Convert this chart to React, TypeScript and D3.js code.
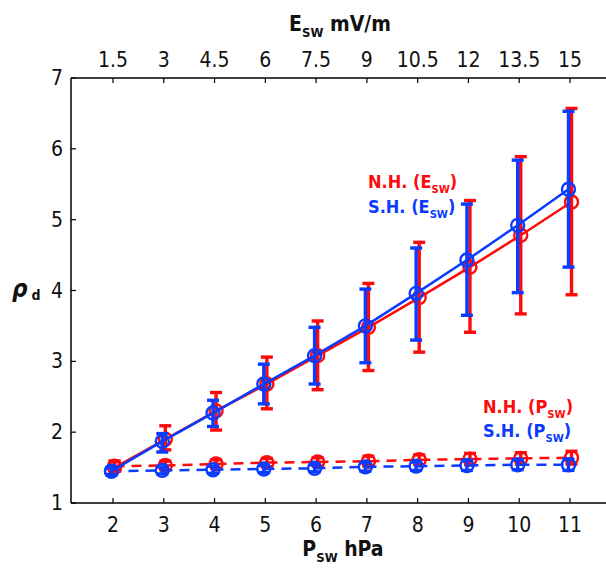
import React from "react";
import * as d3 from "d3";

// ---- data ----
const pswTicks = [2, 3, 4, 5, 6, 7, 8, 9, 10, 11];
const eswTicks = [1.5, 3, 4.5, 6, 7.5, 9, 10.5, 12, 13.5, 15];
const yTicks = [1, 2, 3, 4, 5, 6, 7];

const nhE = [1.5, 1.9, 2.3, 2.68, 3.08, 3.48, 3.9, 4.33, 4.78, 5.25];
const nhEUpper = [1.59, 2.09, 2.56, 3.06, 3.57, 4.1, 4.68, 5.27, 5.89, 6.57];
const nhELower = [1.45, 1.75, 2.03, 2.33, 2.6, 2.87, 3.13, 3.41, 3.67, 3.94];

const shE = [1.45, 1.87, 2.27, 2.68, 3.08, 3.5, 3.96, 4.43, 4.92, 5.43];
const shEUpper = [1.5, 1.98, 2.45, 2.96, 3.48, 4.02, 4.6, 5.22, 5.84, 6.53];
const shELower = [1.4, 1.72, 2.08, 2.4, 2.68, 2.98, 3.3, 3.65, 3.97, 4.33];

const nhP = [1.52, 1.53, 1.55, 1.57, 1.58, 1.59, 1.61, 1.62, 1.63, 1.64];
const nhPErr = [0.07, 0.06, 0.06, 0.06, 0.06, 0.07, 0.07, 0.08, 0.08, 0.09];
const shP = [1.45, 1.46, 1.47, 1.48, 1.49, 1.51, 1.52, 1.53, 1.54, 1.54];
const shPErr = [0.05, 0.05, 0.05, 0.05, 0.05, 0.06, 0.06, 0.07, 0.07, 0.08];

const RED = "#ff0a0a";
const BLUE = "#0a3cff";
const FONT = "'Liberation Sans Narrow', 'DejaVu Sans Condensed', 'Liberation Sans', Arial, sans-serif";

const W = 606;
const H = 574;
const LEFT = 71;
const RIGHT = 606;
const TOP = 78;
const BOTTOM = 503;

const x = d3.scaleLinear().domain([2, 11]).range([113, 570]);
const xTop = d3.scaleLinear().domain([1.5, 15]).range([113, 570]);
const y = d3.scaleLinear().domain([1, 7]).range([BOTTOM, TOP]);

type Series = {
  vals: number[];
  lo: number[];
  hi: number[];
  color: string;
  dx: number;
  dashed: boolean;
};

const series: Series[] = [
  { vals: nhP, lo: nhP.map((v, i) => v - nhPErr[i]), hi: nhP.map((v, i) => v + nhPErr[i]), color: RED, dx: 0.03, dashed: true },
  { vals: shP, lo: shP.map((v, i) => v - shPErr[i]), hi: shP.map((v, i) => v + shPErr[i]), color: BLUE, dx: -0.03, dashed: true },
  { vals: nhE, lo: nhELower, hi: nhEUpper, color: RED, dx: 0.03, dashed: false },
  { vals: shE, lo: shELower, hi: shEUpper, color: BLUE, dx: -0.03, dashed: false },
];

function SeriesMarks({ s }: { s: Series }) {
  const line = d3
    .line<number>()
    .x((_, i) => x(pswTicks[i] + s.dx))
    .y((v) => y(v));
  const capW = 6;
  return (
    <g>
      <path
        d={line(s.vals) || ""}
        fill="none"
        stroke={s.color}
        strokeWidth={2.5}
        strokeDasharray={s.dashed ? "10,7" : undefined}
      />
      {s.vals.map((v, i) => {
        const cx = x(pswTicks[i] + s.dx);
        return (
          <g key={i}>
            <line x1={cx} x2={cx} y1={y(s.lo[i])} y2={y(s.hi[i])} stroke={s.color} strokeWidth={3.4} />
            <line x1={cx - capW} x2={cx + capW} y1={y(s.lo[i])} y2={y(s.lo[i])} stroke={s.color} strokeWidth={3.4} />
            <line x1={cx - capW} x2={cx + capW} y1={y(s.hi[i])} y2={y(s.hi[i])} stroke={s.color} strokeWidth={3.4} />
            <circle cx={cx} cy={y(v)} r={6.5} fill="none" stroke={s.color} strokeWidth={2.4} />
          </g>
        );
      })}
    </g>
  );
}

function SubLabel({ x0, y0, main, sub, after, color, size, anchor }: any) {
  return (
    <text x={x0} y={y0} fill={color} fontFamily={FONT} fontWeight="bold" fontSize={size} textAnchor={anchor || "start"}>
      {main}
      <tspan fontSize={size * 0.62} dy={size * 0.28}>{sub}</tspan>
      <tspan dy={-size * 0.28}>{after}</tspan>
    </text>
  );
}

export default function App() {
  return (
    <svg width={W} height={H} style={{ position: "absolute", left: 0, top: 0, background: "#fff" }}>
      {/* axes frame */}
      <line x1={LEFT} x2={LEFT} y1={TOP} y2={BOTTOM} stroke="#000" strokeWidth={1.5} />
      <line x1={LEFT} x2={RIGHT} y1={BOTTOM} y2={BOTTOM} stroke="#000" strokeWidth={1.5} />
      <line x1={LEFT} x2={RIGHT} y1={TOP} y2={TOP} stroke="#000" strokeWidth={1.5} />

      {/* bottom ticks */}
      {pswTicks.map((t) => (
        <g key={"b" + t}>
          <line x1={x(t)} x2={x(t)} y1={BOTTOM} y2={BOTTOM - 5} stroke="#000" strokeWidth={1.2} />
          <text x={x(t)} y={BOTTOM + 29} textAnchor="middle" fontFamily={FONT} fontSize={21} fill="#111">
            {t}
          </text>
        </g>
      ))}
      {/* top ticks */}
      {eswTicks.map((t) => (
        <g key={"t" + t}>
          <line x1={xTop(t)} x2={xTop(t)} y1={TOP} y2={TOP + 5} stroke="#000" strokeWidth={1.2} />
          <text x={xTop(t)} y={TOP - 11} textAnchor="middle" fontFamily={FONT} fontSize={21} fill="#111">
            {t}
          </text>
        </g>
      ))}
      {/* left ticks */}
      {yTicks.map((t) => (
        <g key={"y" + t}>
          <line x1={LEFT} x2={LEFT + 5} y1={y(t)} y2={y(t)} stroke="#000" strokeWidth={1.2} />
          <text x={LEFT - 8} y={y(t) + 7} textAnchor="end" fontFamily={FONT} fontSize={21} fill="#111">
            {t}
          </text>
        </g>
      ))}

      {/* titles */}
      <SubLabel x0={340} y0={31} main="E" sub="SW" after=" mV/m" color="#111" size={21} anchor="middle" />
      <SubLabel x0={343} y0={556} main="P" sub="SW" after=" hPa" color="#111" size={21} anchor="middle" />
      <text x={12} y={297} fontFamily={FONT} fontWeight="bold" fontStyle="italic" fontSize={24} fill="#111">
        ρ
        <tspan fontSize={14} fontStyle="normal" dx={4} dy={3}>d</tspan>
      </text>

      {/* data */}
      {series.map((s, i) => (
        <SeriesMarks key={i} s={s} />
      ))}

      {/* legends */}
      <SubLabel x0={368} y0={188} main="N.H. (E" sub="SW" after=")" color={RED} size={18} />
      <SubLabel x0={368} y0={213} main="S.H. (E" sub="SW" after=")" color={BLUE} size={18} />
      <SubLabel x0={483} y0={413} main="N.H. (P" sub="SW" after=")" color={RED} size={18} />
      <SubLabel x0={483} y0={437} main="S.H. (P" sub="SW" after=")" color={BLUE} size={18} />
    </svg>
  );
}
